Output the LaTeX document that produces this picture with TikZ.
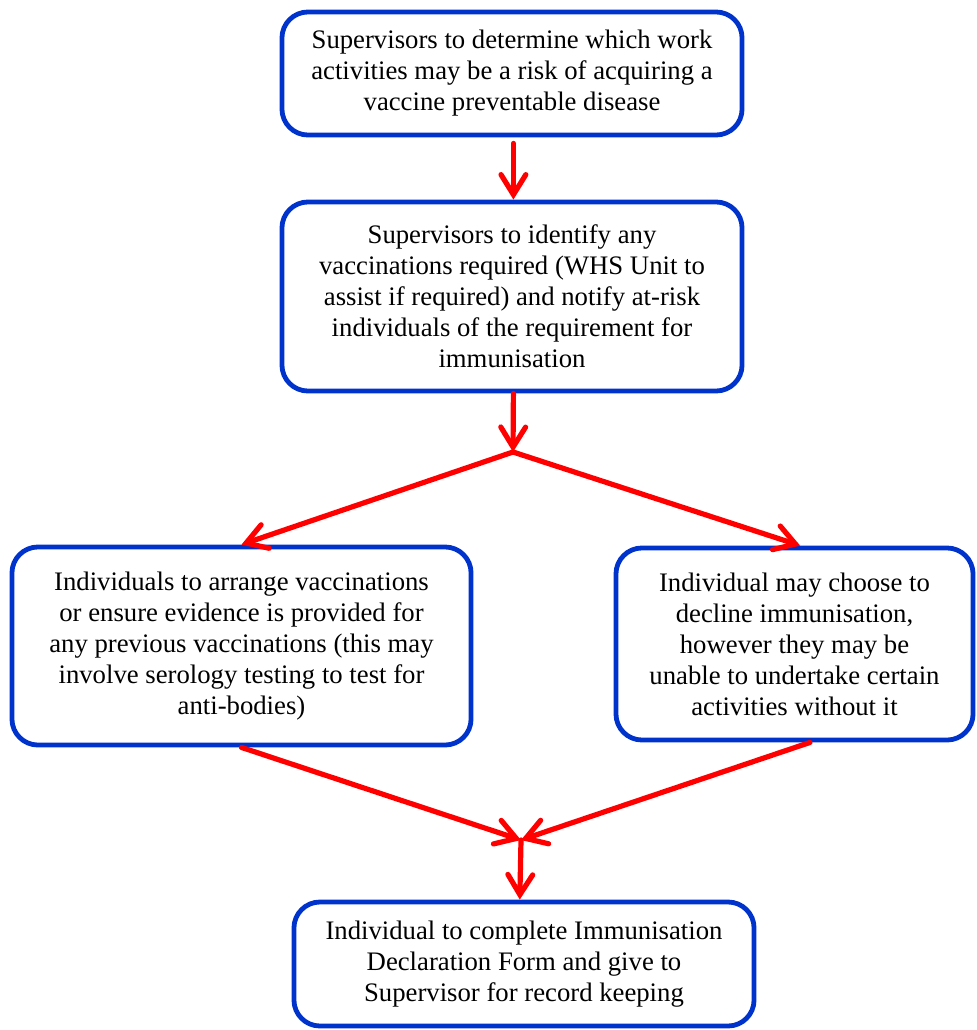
\documentclass[tikz,border=0pt]{standalone}
\usepackage{fontspec}
\setmainfont{Liberation Serif}
\usetikzlibrary{arrows.meta}
\definecolor{cbox}{RGB}{0,51,204}
\definecolor{carrow}{RGB}{255,0,0}

\begin{document}
\begin{tikzpicture}[x=0.025cm,y=-0.025cm,
  font=\fontsize{19}{22}\selectfont,
  stepbox/.style={draw=cbox,line width=0.12cm,rounded corners=0.65cm,
    align=center,inner sep=0pt},
  flow/.style={draw=carrow,line width=0.13cm,line cap=round,line join=round,
    -{Straight Barb[length=0.5cm,width=0.62cm,line cap=round]}}]
 \useasboundingbox (0,0) rectangle (976,1030);
 % ---- boxes ----
 \node[stepbox,minimum width=11.5cm,minimum height=3.075cm] (assess) at (512,73.5)
   {Supervisors to determine which work\\activities may be a risk of acquiring a\\vaccine preventable disease};
 \node[stepbox,minimum width=11.5cm,minimum height=4.725cm] (notify) at (512,296.5)
   {Supervisors to identify any\\vaccinations required (WHS Unit to\\assist if required) and notify at-risk\\individuals of the requirement for\\immunisation};
 \node[stepbox,minimum width=11.475cm,minimum height=4.95cm] (arrange) at (241.5,646)
   {Individuals to arrange vaccinations\\or ensure evidence is provided for\\any previous vaccinations (this may\\involve serology testing to test for\\anti-bodies)};
 \node[stepbox,minimum width=8.925cm,minimum height=4.8cm] (decline) at (794.5,644)
   {Individual may choose to\\decline immunisation,\\however they may be\\unable to undertake certain\\activities without it};
 \node[stepbox,minimum width=11.5cm,minimum height=3.1cm] (declare) at (524,964)
   {Individual to complete Immunisation\\Declaration Form and give to\\Supervisor for record keeping};
 % ---- junctions ----
 \coordinate (split) at (513,452);
 \coordinate (merge) at (521,840);
 % ---- connectors ----
 \draw[flow] ([xshift=1]assess.south) ++(0,6) -- ([xshift=1]notify.north);
 \draw[flow] ([xshift=1]notify.south) -- (split);
 \draw[flow] (split) -- (arrange.north);
 \draw[flow] (split) -- ([xshift=4]decline.north);
 \draw[flow] (arrange.south) -- (merge);
 \draw[flow] ([xshift=11]decline.south) -- (merge);
 \draw[flow] (merge) -- ([xshift=-3]declare.north);
\end{tikzpicture}
\end{document}
